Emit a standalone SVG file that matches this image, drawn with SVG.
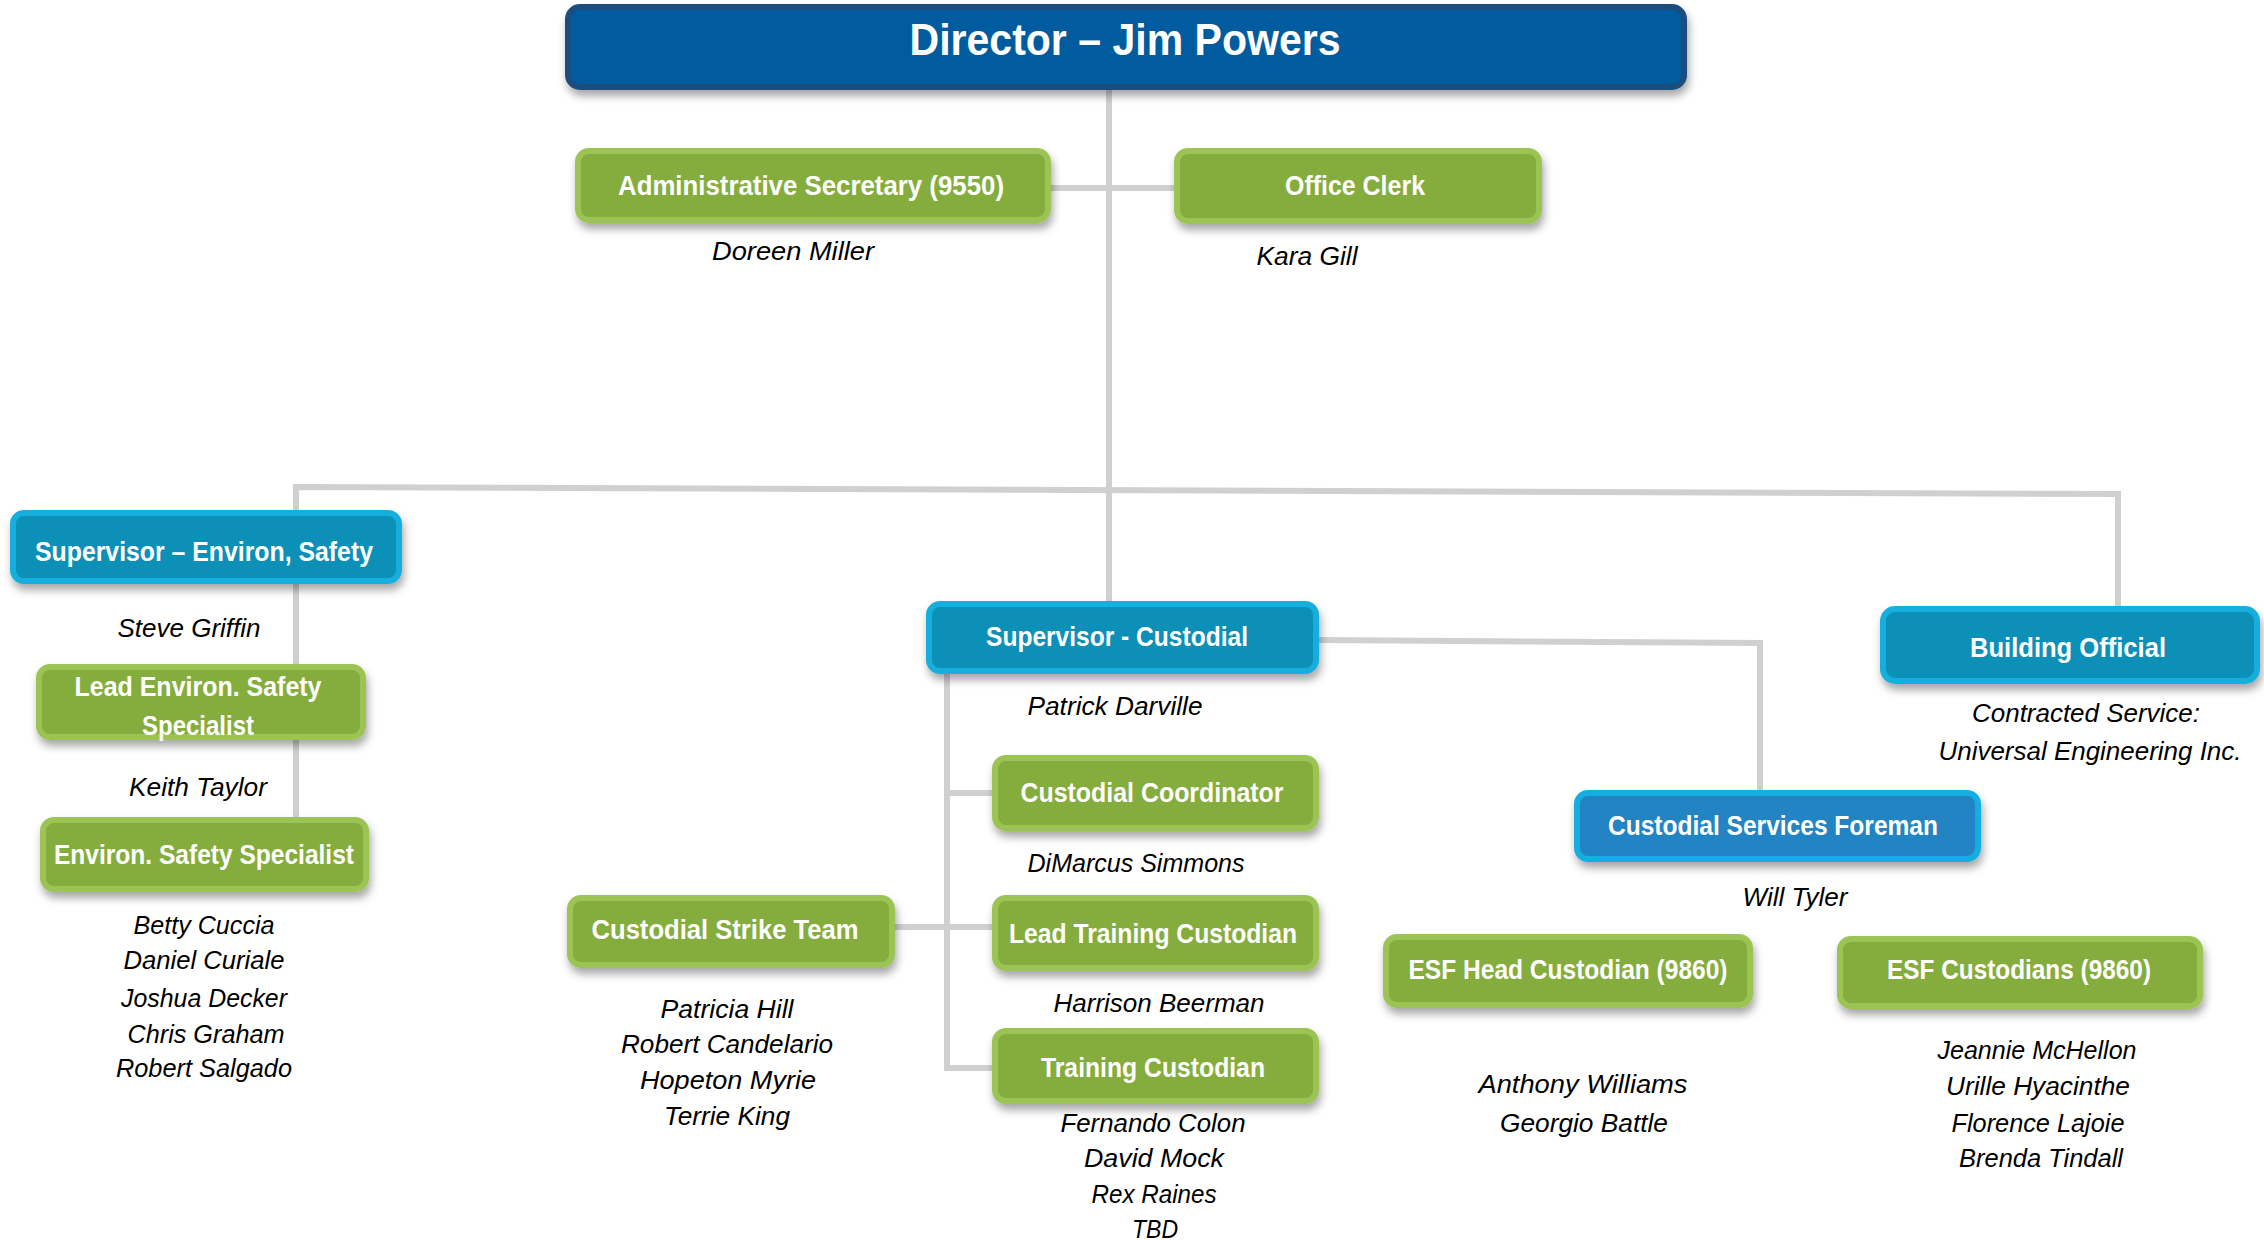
<svg xmlns="http://www.w3.org/2000/svg" width="2264" height="1240" viewBox="0 0 2264 1240">
<defs>
<filter id="sh" x="-10%" y="-20%" width="120%" height="160%">
<feDropShadow dx="2" dy="6" stdDeviation="4" flood-color="#000" flood-opacity="0.35"/>
</filter>
<style>
.box{stroke-width:6;filter:url(#sh)}
.g{fill:#85ad3e;stroke:#9bc454}
.b{fill:#0a90b8;stroke:#14aedc}
.f{fill:#2384c3;stroke:#13aee0}
.d{fill:#005c9f;stroke:#1b4e7f}
.t{font-family:"Liberation Sans","Open Sans",sans-serif;font-weight:bold;fill:#fff;font-size:27px;text-anchor:middle}
.n{font-family:"Liberation Sans","Open Sans",sans-serif;font-style:italic;fill:#000;font-size:26px;text-anchor:middle}
.c{fill:none;stroke:#d0d0d0;stroke-width:6}
</style>
</defs>
<rect width="2264" height="1240" fill="#fff"/>
<g id="connectors">
<line class="c" x1="1109" y1="88" x2="1109" y2="602"/>
<line class="c" x1="1050" y1="188" x2="1174" y2="188"/>
<polyline class="c" points="296,818 296,487 2118,494 2118,606"/>
<polyline class="c" points="1318,640 1760,643 1760,790"/>
<polyline class="c" points="947,673 947,1068 992,1068"/>
<line class="c" x1="947" y1="793" x2="992" y2="793"/>
<line class="c" x1="894" y1="927" x2="992" y2="927"/>
</g>
<g id="director">
<rect class="box d" x="568" y="7" width="1116" height="80" rx="12"/>
<text class="t" x="1125" y="55" style="font-size:44px" textLength="431" lengthAdjust="spacingAndGlyphs">Director – Jim Powers</text>
</g>
<g id="admin-secretary">
<rect class="box g" x="578" y="151" width="470" height="69" rx="11"/>
<text class="t" x="811" y="195" textLength="386" lengthAdjust="spacingAndGlyphs">Administrative Secretary (9550)</text>
<text class="n" x="793" y="260" textLength="162" lengthAdjust="spacingAndGlyphs">Doreen Miller</text>
</g>
<g id="office-clerk">
<rect class="box g" x="1177" y="151" width="362" height="70" rx="11"/>
<text class="t" x="1355" y="195" textLength="140" lengthAdjust="spacingAndGlyphs">Office Clerk</text>
<text class="n" x="1307" y="265" textLength="101" lengthAdjust="spacingAndGlyphs">Kara Gill</text>
</g>
<g id="supervisor-environ">
<rect class="box b" x="13" y="513" width="386" height="68" rx="11"/>
<text class="t" x="204" y="561" textLength="338" lengthAdjust="spacingAndGlyphs">Supervisor – Environ, Safety</text>
<text class="n" x="189" y="637" textLength="143" lengthAdjust="spacingAndGlyphs">Steve Griffin</text>
</g>
<g id="lead-environ">
<rect class="box g" x="39" y="667" width="324" height="70" rx="11"/>
<text class="t" x="198" y="696" textLength="247" lengthAdjust="spacingAndGlyphs">Lead Environ. Safety</text>
<text class="t" x="198" y="735" textLength="112" lengthAdjust="spacingAndGlyphs">Specialist</text>
<text class="n" x="198" y="796" textLength="138" lengthAdjust="spacingAndGlyphs">Keith Taylor</text>
</g>
<g id="environ-specialist">
<rect class="box g" x="43" y="820" width="323" height="69" rx="11"/>
<text class="t" x="204" y="864" textLength="300" lengthAdjust="spacingAndGlyphs">Environ. Safety Specialist</text>
<text class="n" x="204" y="934" textLength="141" lengthAdjust="spacingAndGlyphs">Betty Cuccia</text>
<text class="n" x="204" y="969" textLength="161" lengthAdjust="spacingAndGlyphs">Daniel Curiale</text>
<text class="n" x="204" y="1007" textLength="166" lengthAdjust="spacingAndGlyphs">Joshua Decker</text>
<text class="n" x="206" y="1043" textLength="157" lengthAdjust="spacingAndGlyphs">Chris Graham</text>
<text class="n" x="204" y="1077" textLength="176" lengthAdjust="spacingAndGlyphs">Robert Salgado</text>
</g>
<g id="supervisor-custodial">
<rect class="box b" x="929" y="604" width="387" height="67" rx="11"/>
<text class="t" x="1117" y="646" textLength="262" lengthAdjust="spacingAndGlyphs">Supervisor - Custodial</text>
<text class="n" x="1115" y="715" textLength="175" lengthAdjust="spacingAndGlyphs">Patrick Darville</text>
</g>
<g id="custodial-coordinator">
<rect class="box g" x="995" y="758" width="321" height="70" rx="11"/>
<text class="t" x="1152" y="802" textLength="263" lengthAdjust="spacingAndGlyphs">Custodial Coordinator</text>
<text class="n" x="1136" y="872" textLength="217" lengthAdjust="spacingAndGlyphs">DiMarcus Simmons</text>
</g>
<g id="lead-training-custodian">
<rect class="box g" x="995" y="898" width="321" height="70" rx="11"/>
<text class="t" x="1153" y="943" textLength="288" lengthAdjust="spacingAndGlyphs">Lead Training Custodian</text>
<text class="n" x="1159" y="1012" textLength="211" lengthAdjust="spacingAndGlyphs">Harrison Beerman</text>
</g>
<g id="training-custodian">
<rect class="box g" x="995" y="1031" width="321" height="70" rx="11"/>
<text class="t" x="1153" y="1077" textLength="224" lengthAdjust="spacingAndGlyphs">Training Custodian</text>
<text class="n" x="1153" y="1132" textLength="185" lengthAdjust="spacingAndGlyphs">Fernando Colon</text>
<text class="n" x="1154" y="1167" textLength="140" lengthAdjust="spacingAndGlyphs">David Mock</text>
<text class="n" x="1154" y="1203" textLength="125" lengthAdjust="spacingAndGlyphs">Rex Raines</text>
<text class="n" x="1155" y="1238" textLength="46" lengthAdjust="spacingAndGlyphs">TBD</text>
</g>
<g id="strike-team">
<rect class="box g" x="570" y="898" width="322" height="67" rx="11"/>
<text class="t" x="725" y="939" textLength="267" lengthAdjust="spacingAndGlyphs">Custodial Strike Team</text>
<text class="n" x="727" y="1018" textLength="133" lengthAdjust="spacingAndGlyphs">Patricia Hill</text>
<text class="n" x="727" y="1053" textLength="212" lengthAdjust="spacingAndGlyphs">Robert Candelario</text>
<text class="n" x="728" y="1089" textLength="176" lengthAdjust="spacingAndGlyphs">Hopeton Myrie</text>
<text class="n" x="727" y="1125" textLength="126" lengthAdjust="spacingAndGlyphs">Terrie King</text>
</g>
<g id="building-official">
<rect class="box b" x="1883" y="609" width="374" height="72" rx="12"/>
<text class="t" x="2068" y="657" textLength="196" lengthAdjust="spacingAndGlyphs">Building Official</text>
<text class="n" x="2086" y="722" textLength="228" lengthAdjust="spacingAndGlyphs">Contracted Service:</text>
<text class="n" x="2090" y="760" textLength="303" lengthAdjust="spacingAndGlyphs">Universal Engineering Inc.</text>
</g>
<g id="custodial-foreman">
<rect class="box f" x="1577" y="793" width="401" height="66" rx="11"/>
<text class="t" x="1773" y="835" textLength="330" lengthAdjust="spacingAndGlyphs">Custodial Services Foreman</text>
<text class="n" x="1795" y="906" textLength="105" lengthAdjust="spacingAndGlyphs">Will Tyler</text>
</g>
<g id="esf-head-custodian">
<rect class="box g" x="1386" y="937" width="364" height="68" rx="11"/>
<text class="t" x="1568" y="979" textLength="319" lengthAdjust="spacingAndGlyphs">ESF Head Custodian (9860)</text>
<text class="n" x="1583" y="1093" textLength="209" lengthAdjust="spacingAndGlyphs">Anthony  Williams</text>
<text class="n" x="1584" y="1132" textLength="168" lengthAdjust="spacingAndGlyphs">Georgio Battle</text>
</g>
<g id="esf-custodians">
<rect class="box g" x="1840" y="939" width="360" height="67" rx="11"/>
<text class="t" x="2019" y="979" textLength="264" lengthAdjust="spacingAndGlyphs">ESF Custodians (9860)</text>
<text class="n" x="2037" y="1059" textLength="199" lengthAdjust="spacingAndGlyphs">Jeannie McHellon</text>
<text class="n" x="2038" y="1095" textLength="184" lengthAdjust="spacingAndGlyphs">Urille Hyacinthe</text>
<text class="n" x="2038" y="1132" textLength="173" lengthAdjust="spacingAndGlyphs">Florence Lajoie</text>
<text class="n" x="2041" y="1167" textLength="164" lengthAdjust="spacingAndGlyphs">Brenda Tindall</text>
</g>
</svg>
